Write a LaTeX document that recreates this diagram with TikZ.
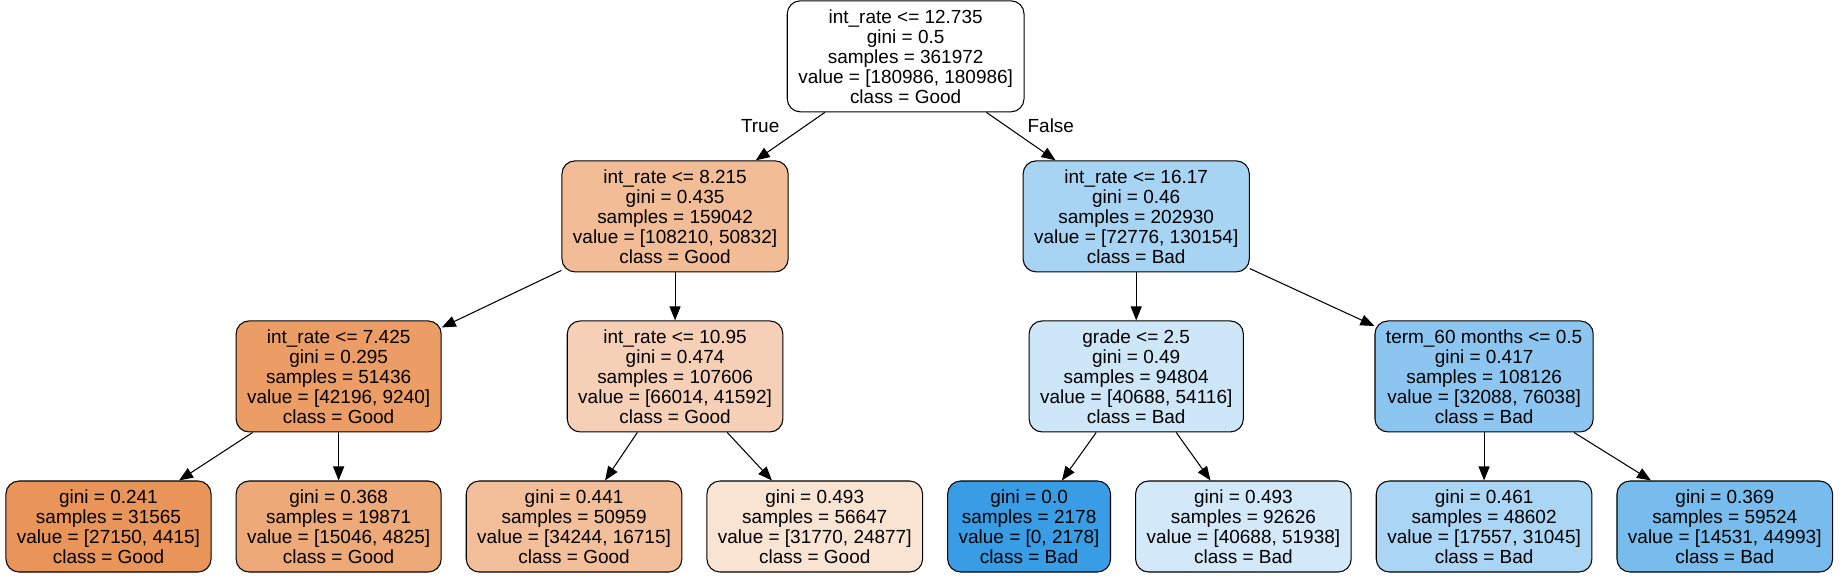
\documentclass[tikz,border=0pt]{standalone}
\usepackage{fontspec}
\setmainfont{Liberation Sans}
\usetikzlibrary{positioning, arrows.meta}
\definecolor{good}{RGB}{229,129,57}
\definecolor{bad}{RGB}{57,157,229}

\begin{document}
\begin{tikzpicture}[
    font=\fontsize{10.8pt}{11.38pt}\selectfont,
    node distance=0.96cm and 0.48cm,
    split/.style={rectangle, draw=black, rounded corners=0.26cm, line width=0.6pt,
                  minimum height=2.22cm, inner xsep=0.22cm, align=center},
    leaf/.style={split, minimum height=1.82cm},
    arrow/.style={-{Triangle[length=0.28cm, width=0.22cm]}, line width=0.6pt},
    edgelabel/.style={inner sep=0pt}
]
\useasboundingbox (-2.17,-1.01) rectangle (34.69,10.53);
% --- Hojas ---
\node[leaf, fill=good!84] (lll) at (0,0) {gini = 0.241\\samples = 31565\\value = [27150, 4415]\\class = Good};
\node[leaf, fill=good!68, right=of lll] (llr) {gini = 0.368\\samples = 19871\\value = [15046, 4825]\\class = Good};
\node[leaf, fill=good!51, right=of llr] (lrl) {gini = 0.441\\samples = 50959\\value = [34244, 16715]\\class = Good};
\node[leaf, fill=good!22, right=of lrl] (lrr) {gini = 0.493\\samples = 56647\\value = [31770, 24877]\\class = Good};
\node[leaf, fill=bad, right=of lrr] (rll) {gini = 0.0\\samples = 2178\\value = [0, 2178]\\class = Bad};
\node[leaf, fill=bad!22, right=of rll] (rlr) {gini = 0.493\\samples = 92626\\value = [40688, 51938]\\class = Bad};
\node[leaf, fill=bad!43, right=of rlr] (rrl) {gini = 0.461\\samples = 48602\\value = [17557, 31045]\\class = Bad};
\node[leaf, fill=bad!68, right=of rrl] (rrr) {gini = 0.369\\samples = 59524\\value = [14531, 44993]\\class = Bad};
% --- Nivel 2 ---
\path (rll.north) -- (rlr.north) coordinate[midway] (rlmid);
\node[split, fill=good!78, above=of llr] (ll) {int\_rate <= 7.425\\gini = 0.295\\samples = 51436\\value = [42196, 9240]\\class = Good};
\node[split, fill=good!37, right=2.5cm of ll] (lr) {int\_rate <= 10.95\\gini = 0.474\\samples = 107606\\value = [66014, 41592]\\class = Good};
\node[split, fill=bad!25, above=of rlmid] (rl) {grade <= 2.5\\gini = 0.49\\samples = 94804\\value = [40688, 54116]\\class = Bad};
\node[split, fill=bad!58, above=of rrl] (rr) {term\_60 months <= 0.5\\gini = 0.417\\samples = 108126\\value = [32088, 76038]\\class = Bad};
% --- Nivel 1 ---
\node[split, fill=good!53, above=of lr] (l) {int\_rate <= 8.215\\gini = 0.435\\samples = 159042\\value = [108210, 50832]\\class = Good};
\node[split, fill=bad!44, above=of rl] (r) {int\_rate <= 16.17\\gini = 0.46\\samples = 202930\\value = [72776, 130154]\\class = Bad};
% --- Raiz ---
\path (l.north) -- (r.north) coordinate[midway] (top);
\node[split, fill=white, above=of top] (root) {int\_rate <= 12.735\\gini = 0.5\\samples = 361972\\value = [180986, 180986]\\class = Good};
% --- Flechas ---
\draw[arrow] (root) -- node[edgelabel, pos=0.29, left=0.5cm] {True} (l);
\draw[arrow] (root) -- node[edgelabel, pos=0.27, right=0.44cm] {False} (r);
\foreach \a/\b in {l/ll, l/lr, r/rl, r/rr,
                   ll/lll, ll/llr, lr/lrl, lr/lrr,
                   rl/rll, rl/rlr, rr/rrl, rr/rrr}
    \draw[arrow] (\a) -- (\b);
\end{tikzpicture}
\end{document}
